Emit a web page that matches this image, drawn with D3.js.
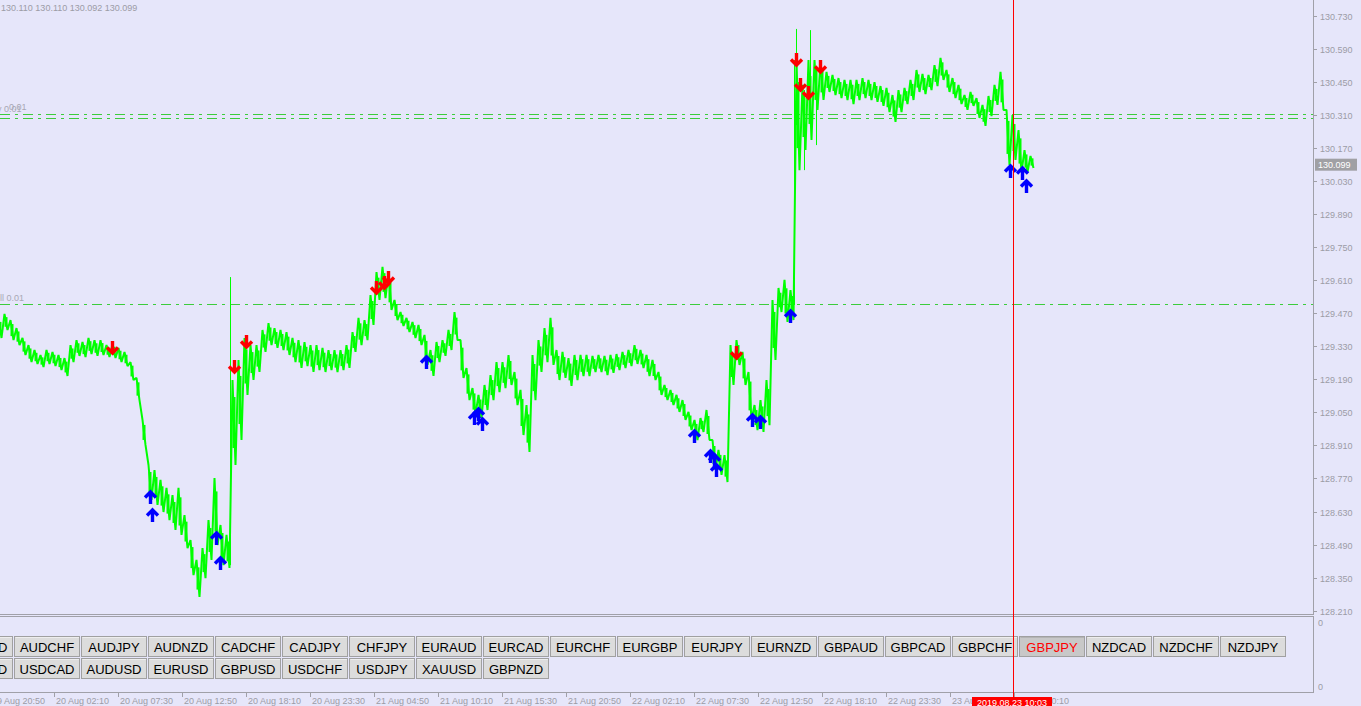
<!DOCTYPE html>
<html><head><meta charset="utf-8">
<script src="https://cdn.jsdelivr.net/npm/d3@7"></script>
<style>html,body{margin:0;padding:0;background:#E6E6FA;overflow:hidden}</style>
</head><body><svg id="c" width="1361" height="706"></svg>
<script>
// ---------- data ----------
const ohlcHeader = ["130.110", "130.110", "130.092", "130.099"];
const currentPrice = 130.099;
const bandStart = "2019-08-19 21:40"; // groups of 30 minutes
const bandHigh = [
129.450,129.467,129.441,129.407,129.365,129.335,129.314,129.293,129.314,129.306,
129.293,129.280,129.335,129.356,129.348,129.365,129.356,129.356,129.335,129.340,
129.323,129.306,129.263,129.196,129.018,128.827,128.806,128.764,128.730,128.700,
128.730,128.615,128.509,128.425,128.475,128.594,128.772,128.573,128.531,129.187,
129.272,129.365,129.335,129.335,129.399,129.428,129.407,129.399,129.390,129.365,
129.356,129.348,129.335,129.335,129.323,129.314,129.314,129.314,129.335,129.390,
129.450,129.441,129.547,129.644,129.666,129.644,129.526,129.475,129.450,129.433,
129.420,129.378,129.314,129.348,129.356,129.399,129.475,129.356,129.238,129.153,
129.124,129.166,129.208,129.263,129.263,129.293,129.221,129.145,129.081,129.293,
129.356,129.407,129.450,129.314,129.306,129.280,129.293,129.293,129.293,129.289,
129.293,129.289,129.293,129.297,129.306,129.314,129.335,129.314,129.293,129.272,
129.221,129.166,129.145,129.124,129.102,129.052,129.018,129.026,129.060,128.933,
128.891,128.869,129.335,129.356,129.306,129.221,129.081,129.102,129.187,129.526,
129.577,129.611,129.568,130.542,130.437,130.542,130.542,130.534,130.492,130.479,
130.466,130.458,130.458,130.458,130.466,130.458,130.449,130.432,130.424,130.394,
130.415,130.424,130.458,130.500,130.483,130.479,130.521,130.551,130.500,130.466,
130.437,130.394,130.407,130.381,130.352,130.390,130.437,130.492,130.331,130.309,
130.246,130.161,130.136];
const bandLow = [
129.365,129.399,129.356,129.335,129.293,129.263,129.255,129.242,129.255,129.246,
129.229,129.204,129.263,129.289,129.284,129.297,129.289,129.293,129.284,129.280,
129.263,129.246,129.187,129.102,128.912,128.679,128.658,128.628,128.594,128.552,
128.531,128.475,128.361,128.268,128.348,128.425,128.488,128.403,128.391,128.827,
128.933,129.124,129.187,129.221,129.306,129.335,129.323,129.314,129.293,129.263,
129.238,129.246,129.221,129.229,129.221,129.229,129.221,129.229,129.238,129.306,
129.335,129.356,129.420,129.526,129.534,129.484,129.441,129.416,129.390,129.365,
129.335,129.251,129.204,129.263,129.289,129.314,129.356,129.196,129.102,129.039,
129.026,129.060,129.102,129.136,129.153,129.166,129.081,128.954,128.882,129.102,
129.221,129.263,129.251,129.187,129.196,129.162,129.187,129.204,129.204,129.221,
129.221,129.208,129.217,129.229,129.238,129.246,129.255,129.238,129.204,129.187,
129.124,129.102,129.081,129.052,129.018,128.975,128.933,128.967,128.933,128.806,
128.785,128.755,129.166,129.251,129.166,129.018,128.975,128.967,128.996,129.272,
129.475,129.433,129.441,130.076,130.161,130.204,130.331,130.373,130.407,130.394,
130.381,130.373,130.356,130.373,130.381,130.373,130.365,130.348,130.322,130.280,
130.322,130.356,130.373,130.407,130.398,130.415,130.432,130.458,130.407,130.381,
130.356,130.331,130.348,130.297,130.263,130.305,130.352,130.331,130.098,130.119,
130.068,130.068,130.085];
const wickTime = ["2019-08-20 16:50","2019-08-22 15:50","2019-08-22 16:00","2019-08-22 16:40","2019-08-22 17:10","2019-08-22 17:40"];
const wickHigh = [129.623,130.542,130.674,130.415,130.669,130.500];
const wickLow  = [128.403,129.505,130.267,130.076,130.373,130.182];
const sellTime = ["2019-08-20 07:00","2019-08-20 17:10","2019-08-20 18:10","2019-08-21 05:00","2019-08-21 05:40","2019-08-21 06:00","2019-08-22 11:00","2019-08-22 16:00","2019-08-22 16:20","2019-08-22 17:00","2019-08-22 18:00"];
const sellPrice = [129.322,129.242,129.348,129.577,129.598,129.619,129.301,130.542,130.437,130.403,130.513];
const buyTime = ["2019-08-20 10:10","2019-08-20 10:20","2019-08-20 15:40","2019-08-20 16:00","2019-08-21 09:10","2019-08-21 13:10","2019-08-21 13:30","2019-08-21 13:50","2019-08-22 07:30","2019-08-22 08:50","2019-08-22 09:10","2019-08-22 09:20","2019-08-22 12:20","2019-08-22 13:00","2019-08-22 15:30","2019-08-23 09:50","2019-08-23 10:50","2019-08-23 11:10"];
const buyPrice = [128.691,128.615,128.518,128.412,129.263,129.026,129.043,129.001,128.950,128.865,128.848,128.806,129.018,129.009,129.458,130.072,130.064,130.009];
const levelPrices = [130.314, 130.297, 129.509];
const levelLabels = ["Buy 0.01", "0.01", "Sell 0.01"];
const priceTicks = [130.730,130.590,130.450,130.310,130.170,130.030,129.890,129.750,129.610,129.470,129.330,129.190,129.050,128.910,128.770,128.630,128.490,128.350,128.210];
const timeTicks = ["19 Aug 20:50","20 Aug 02:10","20 Aug 07:30","20 Aug 12:50","20 Aug 18:10","20 Aug 23:30","21 Aug 04:50","21 Aug 10:10","21 Aug 15:30","21 Aug 20:50","22 Aug 02:10","22 Aug 07:30","22 Aug 12:50","22 Aug 18:10","22 Aug 23:30","23 Aug 04:50","23 Aug 10:10"];
const buttonsRow1 = ["AUDCAD","AUDCHF","AUDJPY","AUDNZD","CADCHF","CADJPY","CHFJPY","EURAUD","EURCAD","EURCHF","EURGBP","EURJPY","EURNZD","GBPAUD","GBPCAD","GBPCHF","GBPJPY","NZDCAD","NZDCHF","NZDJPY"];
const buttonsRow2 = ["NZDUSD","USDCAD","AUDUSD","EURUSD","GBPUSD","USDCHF","USDJPY","XAUUSD","GBPNZD"];
const activeSymbol = "GBPJPY";
const cursorTime = "2019-08-23 10:03";
const cursorLabel = "2019.08.23 10:03";

// ---------- scales ----------
const parse = d3.utcParse("%Y-%m-%d %H:%M");
const parseTick = d3.utcParse("%Y %d %b %H:%M");
const W = 1361, H = 706, axisX = 1313, mainBottom = 614, subTop = 616, subBottom = 692;
const x = d3.scaleUtc().domain([parse("2019-08-19 21:40"), parse("2019-08-23 10:10")]).range([0, 1014]);
const y = d3.scaleLinear().domain([128.210, 130.730]).range([610.7, 15.7]);
const FONT = "'Liberation Sans', Arial, sans-serif";
const GRAY = "#9c9ca6";
const GREEN = "#00ff00";

const svg = d3.select("#c");
svg.append("rect").attr("width", W).attr("height", H).attr("fill", "#E6E6FA");

const defs = svg.append("defs");
defs.append("clipPath").attr("id", "clipMain").append("rect").attr("x", 0).attr("y", 0).attr("width", axisX).attr("height", mainBottom);
const plot = svg.append("g").attr("clip-path", "url(#clipMain)");

// header text
svg.append("text").attr("x", 1).attr("y", 11).attr("font-family", FONT).attr("font-size", 9)
  .attr("fill", GRAY).text(ohlcHeader.join(" "));

// level lines
levelPrices.forEach((p) => {
  const yy = Math.round(y(p)) + 0.5;
  plot.append("line").attr("x1", 0).attr("x2", axisX).attr("y1", yy).attr("y2", yy)
    .attr("stroke", "#3ccc3c").attr("stroke-width", 1).attr("stroke-dasharray", "10,5,3,5");
});
plot.append("text").attr("x", -14).attr("y", Math.round(y(levelPrices[0])) - 2).attr("font-family", FONT)
  .attr("font-size", 9).attr("fill", "#a8a8b4").text(levelLabels[0]);
plot.append("text").attr("x", 9).attr("y", Math.round(y(levelPrices[0])) - 4).attr("font-family", FONT)
  .attr("font-size", 9).attr("fill", "#a8a8b4").text(levelLabels[1]);
plot.append("text").attr("x", -11).attr("y", Math.round(y(levelPrices[2])) - 3).attr("font-family", FONT)
  .attr("font-size", 9).attr("fill", "#a8a8b4").text(levelLabels[2]);

// price bars: each 30-minute group drawn as a sawtooth high -> low, plus its range bar
const t0 = parse(bandStart);
const band = bandHigh.map((h, i) => ({ t: d3.utcMinute.offset(t0, 30 * i), hi: h, lo: bandLow[i] }));
const saw = [];
band.forEach((d) => {
  const bx = x(d.t);
  saw.push([bx - 1.5, y(d.hi)]);
  saw.push([bx + 1.5, y(d.lo)]);
});
plot.append("path").attr("d", d3.line()(saw)).attr("fill", "none").attr("stroke", GREEN)
  .attr("stroke-width", 2).attr("stroke-linejoin", "bevel");
plot.selectAll("rect.bar").data(band).join("rect").attr("class", "bar")
  .attr("x", d => x(d.t) - 1.5).attr("width", 3)
  .attr("y", d => y(d.hi) + (y(d.lo) - y(d.hi)) * 0.2).attr("height", d => (y(d.lo) - y(d.hi)) * 0.6)
  .attr("fill", GREEN);
// wicks
plot.selectAll("line.wick").data(wickTime).join("line").attr("class", "wick")
  .attr("x1", (d) => Math.round(x(parse(d))) + 0.5).attr("x2", (d) => Math.round(x(parse(d))) + 0.5)
  .attr("y1", (d, i) => y(wickHigh[i])).attr("y2", (d, i) => y(wickLow[i]))
  .attr("stroke", GREEN).attr("stroke-width", 1);

// arrows
function downArrow(cx, cy) {
  return `M${cx},${cy - 7}L${cx},${cy + 5}M${cx - 5.5},${cy - 0.5}L${cx},${cy + 5}L${cx + 5.5},${cy - 0.5}`;
}
function upArrow(cx, cy) {
  return `M${cx},${cy + 7}L${cx},${cy - 5}M${cx - 5.5},${cy + 0.5}L${cx},${cy - 5}L${cx + 5.5},${cy + 0.5}`;
}
plot.selectAll("path.sell").data(sellTime).join("path").attr("class", "sell")
  .attr("d", (d, i) => downArrow(Math.round(x(parse(d))) + 0.5, Math.round(y(sellPrice[i]))))
  .attr("fill", "none").attr("stroke", "#ff0000").attr("stroke-width", 3.4).attr("stroke-linejoin", "miter");
plot.selectAll("path.buy").data(buyTime).join("path").attr("class", "buy")
  .attr("d", (d, i) => upArrow(Math.round(x(parse(d))) + 0.5, Math.round(y(buyPrice[i]))))
  .attr("fill", "none").attr("stroke", "#0000ff").attr("stroke-width", 3.4).attr("stroke-linejoin", "miter");

// frames
const frame = svg.append("g").attr("stroke", "#a0a0a8").attr("stroke-width", 1).attr("shape-rendering", "crispEdges");
frame.append("line").attr("x1", axisX + 0.5).attr("x2", axisX + 0.5).attr("y1", 0).attr("y2", mainBottom + 0.5);
frame.append("line").attr("x1", 0).attr("x2", axisX + 0.5).attr("y1", mainBottom + 0.5).attr("y2", mainBottom + 0.5);
frame.append("line").attr("x1", 0).attr("x2", axisX + 0.5).attr("y1", subTop + 0.5).attr("y2", subTop + 0.5);
frame.append("line").attr("x1", axisX + 0.5).attr("x2", axisX + 0.5).attr("y1", subTop + 0.5).attr("y2", subBottom + 0.5);
frame.append("line").attr("x1", 0).attr("x2", axisX + 0.5).attr("y1", subBottom + 0.5).attr("y2", subBottom + 0.5);

// price axis
const pa = svg.append("g");
priceTicks.forEach(p => {
  const yy = Math.round(y(p)) + 0.5;
  pa.append("line").attr("x1", axisX).attr("x2", axisX + 4).attr("y1", yy).attr("y2", yy).attr("stroke", "#a0a0a8");
  pa.append("text").attr("x", 1320).attr("y", yy + 3.5).attr("font-family", FONT).attr("font-size", 9)
    .attr("fill", GRAY).text(d3.format(".3f")(p));
});
const cpY = y(currentPrice);
pa.append("rect").attr("x", 1315).attr("y", cpY - 6).attr("width", 42).attr("height", 12).attr("fill", "#a0a0a4");
pa.append("text").attr("x", 1318).attr("y", cpY + 3.5).attr("font-family", FONT).attr("font-size", 9)
  .attr("fill", "#ffffff").text(d3.format(".3f")(currentPrice));
// sub window scale
pa.append("text").attr("x", 1318).attr("y", 626).attr("font-family", FONT).attr("font-size", 9).attr("fill", GRAY).text("0");
pa.append("text").attr("x", 1318).attr("y", 690).attr("font-family", FONT).attr("font-size", 9).attr("fill", GRAY).text("0");

// buttons
function drawRow(list, top) {
  list.forEach((name, i) => {
    const bx = -53 + 67 * i;
    const active = name === activeSymbol;
    const g = svg.append("g");
    g.append("rect").attr("x", bx + 0.5).attr("y", top + 0.5).attr("width", 65).attr("height", 20)
      .attr("fill", active ? "#c8c8c8" : "#dcdcdc").attr("stroke", "#a0a0a0");
    g.append("line").attr("x1", bx + 1.5).attr("x2", bx + 65).attr("y1", top + 1.5).attr("y2", top + 1.5).attr("stroke", active ? "#b4b4b4" : "#eeeeee");
    g.append("text").attr("x", bx + 33).attr("y", top + 15.5).attr("text-anchor", "middle")
      .attr("font-family", FONT).attr("font-size", 13).attr("fill", active ? "#ff0000" : "#000000").text(name);
  });
}
drawRow(buttonsRow1, 636);
drawRow(buttonsRow2, 658);

// time axis
const ta = svg.append("g");
timeTicks.forEach(s => {
  const tx = Math.round(x(parseTick("2019 " + s))) + 0.5;
  ta.append("line").attr("x1", tx).attr("x2", tx).attr("y1", subBottom).attr("y2", subBottom + 5).attr("stroke", "#a0a0a8");
  ta.append("text").attr("x", tx + 1.5).attr("y", 704).attr("font-family", FONT).attr("font-size", 9)
    .attr("fill", GRAY).text(s);
});

// cursor
const cx = Math.round(x(parse(cursorTime)));
svg.append("rect").attr("x", cx).attr("y", 0).attr("width", 1).attr("height", 697).attr("fill", "#ff0000");
svg.append("rect").attr("x", cx - 41).attr("y", 697).attr("width", 80).attr("height", 10).attr("fill", "#ff0000");
svg.append("text").attr("x", cx - 1).attr("y", 705.5).attr("text-anchor", "middle").attr("font-family", FONT)
  .attr("font-size", 9).attr("fill", "#ffffff").text(cursorLabel);
</script></body></html>
